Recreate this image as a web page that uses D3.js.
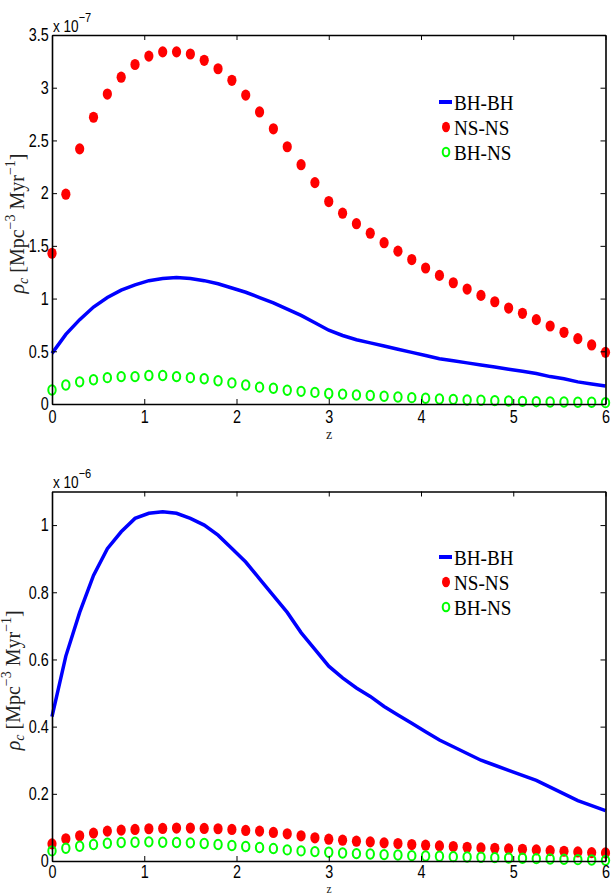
<!DOCTYPE html>
<html>
<head>
<meta charset="utf-8">
<script src="https://cdn.jsdelivr.net/npm/d3@7"></script>
<style>
  body { margin: 0; background: #fff; }
  svg { display: block; }
</style>
</head>
<body>
<script>
// redshift grid shared by every series
var zVals = [0, 0.15, 0.3, 0.45, 0.6, 0.75, 0.9, 1.05, 1.2, 1.35, 1.5, 1.65, 1.8, 1.95,
  2.1, 2.25, 2.4, 2.55, 2.7, 2.85, 3, 3.15, 3.3, 3.45, 3.6, 3.75, 3.9, 4.05, 4.2, 4.35,
  4.5, 4.65, 4.8, 4.95, 5.1, 5.25, 5.4, 5.55, 5.7, 5.85, 6];

// top panel, units of 1e-7
var topBHBH = [0.48, 0.66, 0.80, 0.92, 1.01, 1.08, 1.13, 1.17, 1.19, 1.20, 1.19, 1.17, 1.14, 1.10,
  1.06, 1.01, 0.96, 0.90, 0.84, 0.77, 0.70, 0.65, 0.61, 0.58, 0.55, 0.52, 0.49, 0.46, 0.43, 0.41,
  0.39, 0.37, 0.35, 0.33, 0.31, 0.29, 0.26, 0.24, 0.21, 0.19, 0.17];
var topNSNS = [1.43, 1.99, 2.42, 2.72, 2.94, 3.10, 3.22, 3.30, 3.34, 3.34, 3.32, 3.26, 3.18, 3.07,
  2.93, 2.77, 2.61, 2.44, 2.27, 2.10, 1.92, 1.81, 1.71, 1.62, 1.53, 1.45, 1.37, 1.29, 1.22, 1.15,
  1.09, 1.03, 0.97, 0.91, 0.86, 0.80, 0.74, 0.68, 0.62, 0.56, 0.49];
var topBHNS = [0.133, 0.18, 0.21, 0.23, 0.25, 0.26, 0.26, 0.27, 0.27, 0.26, 0.25, 0.24, 0.22, 0.20,
  0.18, 0.16, 0.15, 0.13, 0.12, 0.11, 0.10, 0.094, 0.086, 0.08, 0.073, 0.067, 0.06, 0.054, 0.047, 0.044,
  0.038, 0.036, 0.032, 0.028, 0.025, 0.022, 0.019, 0.019, 0.016, 0.016, 0.013];

// bottom panel, units of 1e-6
var botBHBH = [0.43, 0.61, 0.74, 0.85, 0.93, 0.98, 1.02, 1.035, 1.04, 1.035, 1.02, 1.00, 0.97, 0.93,
  0.89, 0.84, 0.79, 0.74, 0.68, 0.63, 0.58, 0.545, 0.515, 0.49, 0.46, 0.435, 0.41, 0.385, 0.36, 0.34,
  0.32, 0.30, 0.285, 0.27, 0.255, 0.24, 0.22, 0.20, 0.18, 0.165, 0.15];
var botNSNS = [0.051, 0.066, 0.075, 0.083, 0.089, 0.092, 0.094, 0.096, 0.097, 0.098, 0.098, 0.097, 0.096, 0.094,
  0.091, 0.089, 0.085, 0.081, 0.075, 0.069, 0.065, 0.062, 0.059, 0.057, 0.054, 0.052, 0.049, 0.047, 0.045, 0.043,
  0.041, 0.039, 0.038, 0.036, 0.035, 0.033, 0.031, 0.029, 0.027, 0.025, 0.024];
var botBHNS = [0.030, 0.038, 0.044, 0.049, 0.053, 0.055, 0.056, 0.057, 0.056, 0.055, 0.054, 0.052, 0.049, 0.046,
  0.043, 0.040, 0.037, 0.033, 0.030, 0.028, 0.026, 0.024, 0.022, 0.021, 0.019, 0.018, 0.016, 0.015, 0.014, 0.013,
  0.012, 0.011, 0.010, 0.009, 0.008, 0.007, 0.006, 0.005, 0.004, 0.003, 0.002];

var xTicks = [0, 1, 2, 3, 4, 5, 6];
var xTickLabels = ["0", "1", "2", "3", "4", "5", "6"];
var topYTicks = [0, 0.5, 1, 1.5, 2, 2.5, 3, 3.5];
var topYTickLabels = ["0", "0.5", "1", "1.5", "2", "2.5", "3", "3.5"];
var botYTicks = [0, 0.2, 0.4, 0.6, 0.8, 1];
var botYTickLabels = ["0", "0.2", "0.4", "0.6", "0.8", "1"];
var legendNames = ["BH-BH", "NS-NS", "BH-NS"];

var svg = d3.select("body").append("svg")
  .attr("width", 611)
  .attr("height", 895);

var squeeze = 0.8;

function drawPanel(p) {
  var x = d3.scaleLinear().domain([0, 6]).range([52, 605.5]);
  var y = d3.scaleLinear().domain([0, p.ymax]).range([p.bottom, p.top]);
  var g = svg.append("g");

  // curve + markers
  var line = d3.line().x(function(d, i) { return x(zVals[i]); }).y(function(d) { return y(d); });
  g.append("path").datum(p.bhbh)
    .attr("d", line)
    .attr("fill", "none")
    .attr("stroke", "#0000ff")
    .attr("stroke-width", 3.5);

  g.selectAll("ellipse.nsns").data(p.nsns)
    .enter().append("ellipse")
    .attr("class", "nsns")
    .attr("cx", function(d, i) { return x(zVals[i]); })
    .attr("cy", function(d) { return y(d); })
    .attr("rx", 4.6)
    .attr("ry", 5.6)
    .attr("fill", "#ff0000");

  g.selectAll("ellipse.bhns").data(p.bhns)
    .enter().append("ellipse")
    .attr("class", "bhns")
    .attr("cx", function(d, i) { return x(zVals[i]); })
    .attr("cy", function(d) { return y(d); })
    .attr("rx", 3.7)
    .attr("ry", 4.7)
    .attr("fill", "none")
    .attr("stroke", "#00ff00")
    .attr("stroke-width", 2);

  // axes, ticks inward on all four sides
  var axB = g.append("g").attr("transform", "translate(0," + p.bottom + ")")
    .call(d3.axisBottom(x).tickValues(xTicks).tickSize(-5).tickSizeOuter(0).tickPadding(p.xPad)
      .tickFormat(function(d, i) { return xTickLabels[i]; }));
  var axT = g.append("g").attr("transform", "translate(0," + p.top + ")")
    .call(d3.axisTop(x).tickValues(xTicks).tickSize(-5).tickSizeOuter(0).tickFormat(""));
  var axL = g.append("g").attr("transform", "translate(52,0)")
    .call(d3.axisLeft(y).tickValues(p.yTicks).tickSize(-5).tickSizeOuter(0).tickPadding(4)
      .tickFormat(function(d, i) { return p.yLabels[i]; }));
  var axR = g.append("g").attr("transform", "translate(605.5,0)")
    .call(d3.axisRight(y).tickValues(p.yTicks).tickSize(-5).tickSizeOuter(0).tickFormat(""));

  [axB, axT, axL, axR].forEach(function(a) {
    a.select(".domain").attr("stroke", "#000").attr("stroke-width", 1.6);
    a.selectAll(".tick line").attr("stroke", "#000").attr("stroke-width", 1);
    a.selectAll(".tick text")
      .attr("fill", "#000")
      .attr("font-family", "Liberation Sans, Arial, sans-serif")
      .attr("font-size", 18)
      .attr("transform", "scale(" + squeeze + ",1)");
  });
  axB.selectAll(".tick text").attr("dy", "0.7em");

  // exponent
  var ex = g.append("text")
    .attr("transform", "translate(53," + p.expY + ") scale(0.85,1)")
    .attr("font-family", "Liberation Sans, Arial, sans-serif")
    .attr("font-size", 16)
    .attr("fill", "#000");
  ex.append("tspan").text("x 10");
  ex.append("tspan").attr("dy", -10).attr("font-size", 13).text(p.exp);

  // y label
  var yl = g.append("text")
    .attr("transform", "translate(" + p.ylabX + "," + ((p.top + p.bottom) / 2 + 4) + ") rotate(-90)")
    .attr("text-anchor", "middle")
    .attr("font-family", "Liberation Serif, serif")
    .attr("font-size", 20)
    .attr("fill", "#222");
  yl.append("tspan").attr("font-style", "italic").text("ρ");
  yl.append("tspan").attr("font-style", "italic").attr("font-size", 14).attr("dy", 4).text("c");
  yl.append("tspan").attr("dy", -4).text(" [Mpc");
  yl.append("tspan").attr("font-size", 14).attr("dy", -9).text("−3");
  yl.append("tspan").attr("dy", 9).text(" Myr");
  yl.append("tspan").attr("font-size", 14).attr("dy", -9).text("−1");
  yl.append("tspan").attr("dy", 9).text("]");

  // x label
  g.append("text")
    .attr("x", 329)
    .attr("y", p.zY)
    .attr("text-anchor", "middle")
    .attr("font-family", "Liberation Serif, serif")
    .attr("font-size", p.zSize)
    .attr("fill", "#222")
    .text("z");

  // legend
  var lg = g.append("g");
  lg.append("line")
    .attr("x1", 439).attr("x2", 452)
    .attr("y1", p.legY).attr("y2", p.legY)
    .attr("stroke", "#0000ff").attr("stroke-width", 4);
  lg.append("ellipse")
    .attr("cx", 446).attr("cy", p.legY + 25).attr("rx", 4).attr("ry", 5.2)
    .attr("fill", "#ff0000");
  lg.append("ellipse")
    .attr("cx", 446).attr("cy", p.legY + 50).attr("rx", 3.3).attr("ry", 4.3)
    .attr("fill", "none").attr("stroke", "#00ff00").attr("stroke-width", 2);
  legendNames.forEach(function(name, i) {
    lg.append("text")
      .attr("transform", "translate(454," + (p.legY + 8 + i * 25) + ") scale(0.87,1)")
      .attr("font-family", "Liberation Serif, serif")
      .attr("font-size", 22)
      .attr("fill", "#000")
      .text(name);
  });
}

drawPanel({
  top: 35, bottom: 404, ymax: 3.5,
  yTicks: topYTicks, yLabels: topYTickLabels,
  bhbh: topBHBH, nsns: topNSNS, bhns: topBHNS,
  exp: "−7", expY: 32, ylabX: 24, legY: 102, zY: 439, zSize: 14, xPad: 6
});

drawPanel({
  top: 491.5, bottom: 861, ymax: 1.1,
  yTicks: botYTicks, yLabels: botYTickLabels,
  bhbh: botBHBH, nsns: botNSNS, bhns: botBHNS,
  exp: "−6", expY: 488, ylabX: 20, legY: 557, zY: 893, zSize: 11.5, xPad: 4
});
</script>
</body>
</html>
